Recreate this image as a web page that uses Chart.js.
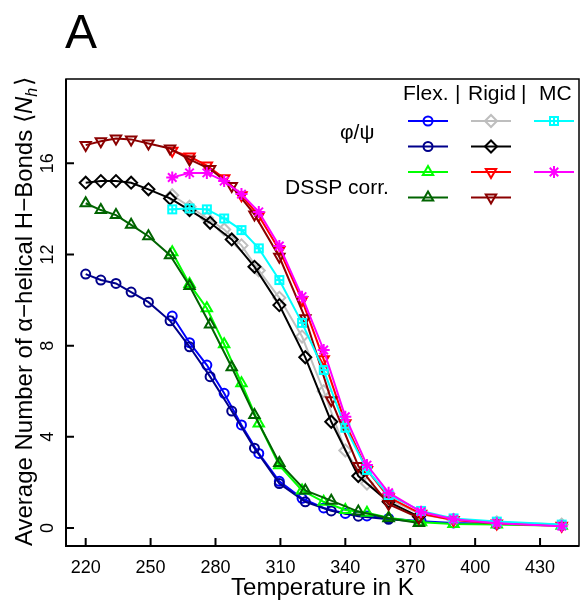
<!DOCTYPE html>
<html>
<head>
<meta charset="utf-8">
<script src="https://cdn.jsdelivr.net/npm/chart.js@4"></script>
<style>
  html, body { margin: 0; padding: 0; background: #fff; }
  canvas { display: block; }
</style>
</head>
<body>
<canvas id="chart" width="587" height="603"></canvas>
<script>
const FONT = '"Liberation Sans", Arial, Helvetica, sans-serif';

// temperature grids (K)
const tempsA = [220, 227, 234, 241, 249, 259, 268, 277.5, 287.5, 298, 309.5, 321.5, 333.5, 346, 360, 374];
const tempsB = [260, 268, 276, 284, 292, 300, 309.5, 320, 330, 340, 350, 360, 375, 390, 410, 440];

// average number of alpha-helical H-bonds
const flexPhiDark   = [11.14, 10.88, 10.73, 10.35, 9.91, 9.09, 7.95, 6.64, 5.13, 3.5, 1.95, 1.15, 0.75, 0.52, 0.38, 0.28];
const flexPhi       = [9.3, 8.13, 7.15, 5.91, 4.52, 3.27, 2.05, 1.3, 0.88, 0.64, 0.53, 0.42, 0.3, 0.22, 0.17, 0.12];
const flexDsspDark  = [14.25, 13.95, 13.73, 13.3, 12.8, 11.97, 10.62, 8.93, 7.05, 4.96, 2.85, 1.65, 1.2, 0.72, 0.43, 0.22];
const flexDssp      = [12.1, 10.7, 9.64, 8.06, 6.35, 4.59, 2.75, 1.65, 1.15, 0.79, 0.67, 0.45, 0.25, 0.17, 0.15, 0.1];
const rigidPhiDark  = [15.15, 15.22, 15.22, 15.15, 14.86, 14.46, 13.95, 13.39, 12.66, 11.46, 9.78, 7.49, 4.66, 2.28, 1.15, 0.5];
const rigidPhi      = [14.6, 14.1, 13.6, 13.1, 12.4, 11.3, 10.1, 8.4, 6.0, 3.4, 1.95, 1.25, 0.6, 0.35, 0.25, 0.15];
const rigidDsspDark = [16.8, 16.97, 17.09, 17.05, 16.87, 16.65, 16.17, 15.75, 15.0, 13.76, 11.9, 9.2, 5.61, 2.72, 1.05, 0.45];
const rigidDssp     = [16.55, 16.3, 15.9, 15.35, 14.6, 13.7, 12.2, 10.0, 7.4, 4.6, 2.55, 1.35, 0.62, 0.35, 0.2, 0.1];
const mcPhi         = [13.98, 14.02, 13.98, 13.58, 13.07, 12.27, 10.88, 9.0, 6.93, 4.4, 2.55, 1.45, 0.75, 0.42, 0.28, 0.15];
const mcDssp        = [15.38, 15.58, 15.58, 15.22, 14.65, 13.87, 12.37, 10.15, 7.81, 4.88, 2.76, 1.55, 0.71, 0.38, 0.21, 0.08];

const xTicks = [220, 250, 280, 310, 340, 370, 400, 430];
const yTicks = [0, 4, 8, 12, 16];

// square with plus (R pch 12)
function boxPlus(color) {
    const c = document.createElement("canvas");
    c.width = 12;
    c.height = 12;
    const g = c.getContext("2d");
    g.strokeStyle = color;
    g.lineWidth = 2;
    g.strokeRect(2, 2, 8, 8);
    g.beginPath();
    g.moveTo(6, 2); g.lineTo(6, 10);
    g.moveTo(2, 6); g.lineTo(10, 6);
    g.stroke();
    return c;
}

const circle = { pointStyle: "circle", radius: 4.5, rotation: 0 };
const diamond = { pointStyle: "rectRot", radius: 6, rotation: 0 };
const triUp = { pointStyle: "triangle", radius: 6, rotation: 0 };
const triDown = { pointStyle: "triangle", radius: 6, rotation: 180 };
const star = { pointStyle: "star", radius: 6, rotation: 0 };
const box = { pointStyle: boxPlus("#00FFFF"), radius: 5, rotation: 0 };

const makeSet = (temps, values, color, marker, order) => ({
    data: temps.map((t, i) => ({ x: t, y: values[i] })),
    borderColor: color,
    backgroundColor: "rgba(0,0,0,0)",
    borderWidth: 2,
    tension: 0,
    pointStyle: marker.pointStyle,
    pointRadius: marker.radius,
    pointRotation: marker.rotation,
    pointBorderWidth: 2,
    pointBorderColor: color,
    pointBackgroundColor: "rgba(0,0,0,0)",
    order: order,
});

// legend grid: [row, col, color, marker]
const legendRows = [121, 146.5, 172, 197.5];
const legendCols = [428, 491, 554];
const legendItems = [
    [0, 0, "#0000FF", circle], [0, 1, "#BEBEBE", diamond], [0, 2, "#00FFFF", box],
    [1, 0, "#00008B", circle], [1, 1, "#000000", diamond],
    [2, 0, "#00FF00", triUp], [2, 1, "#FF0000", triDown], [2, 2, "#FF00FF", star],
    [3, 0, "#006400", triUp], [3, 1, "#8B0000", triDown],
];

const decor = {
    id: "decor",
    afterDraw(chart) {
        const ctx = chart.ctx;
        const area = chart.chartArea;
        const xs = chart.scales.x;
        const ys = chart.scales.y;
        ctx.save();

        // frame and axes
        ctx.strokeStyle = "#000";
        ctx.lineWidth = 1.5;
        ctx.strokeRect(area.left, area.top, area.right - area.left, area.bottom - area.top);
        ctx.lineWidth = 2;
        ctx.beginPath();
        ctx.moveTo(area.left, area.top);
        ctx.lineTo(area.left, area.bottom);
        ctx.lineTo(area.right, area.bottom);
        xTicks.forEach((v) => {
            const px = xs.getPixelForValue(v);
            ctx.moveTo(px, area.bottom);
            ctx.lineTo(px, area.bottom - 8);
        });
        yTicks.forEach((v) => {
            const py = ys.getPixelForValue(v);
            ctx.moveTo(area.left, py);
            ctx.lineTo(area.left + 8, py);
        });
        ctx.stroke();

        ctx.fillStyle = "#000";
        ctx.textBaseline = "alphabetic";
        ctx.textAlign = "left";

        // panel letter
        ctx.font = "48px " + FONT;
        ctx.fillText("A", 65, 48);

        // y title with italic N and subscript h
        const main = "Average Number of \u03b1\u2212helical H\u2212Bonds \u27e8";
        const fMain = "24px " + FONT;
        const fIt = "italic 24px " + FONT;
        const fSub = "italic 16px " + FONT;
        ctx.font = fMain; const w1 = ctx.measureText(main).width;
        ctx.font = fIt; const w2 = ctx.measureText("N").width;
        ctx.font = fSub; const w3 = ctx.measureText("h").width;
        ctx.font = fMain; const w4 = ctx.measureText("\u27e9").width;
        const total = w1 + w2 + w3 + 2 + w4;
        ctx.save();
        ctx.translate(32, 311.5);
        ctx.rotate(-Math.PI / 2);
        let tx = -total / 2;
        ctx.font = fMain; ctx.fillText(main, tx, 0); tx += w1;
        ctx.font = fIt; ctx.fillText("N", tx, 0); tx += w2;
        ctx.font = fSub; ctx.fillText("h", tx, 5); tx += w3 + 2;
        ctx.font = fMain; ctx.fillText("\u27e9", tx, 0);
        ctx.restore();

        // legend header and row labels
        ctx.font = "21px " + FONT;
        ctx.fillText("Flex.", 403, 100);
        ctx.fillText("|", 455, 100);
        ctx.fillText("Rigid", 468, 100);
        ctx.fillText("|", 521, 100);
        ctx.fillText("MC", 539, 100);
        ctx.fillText("\u03c6/\u03c8", 340, 139);
        ctx.fillText("DSSP corr.", 285, 194);

        // legend samples
        legendItems.forEach(([r, c, color, m]) => {
            const cx = legendCols[c];
            const cy = legendRows[r];
            ctx.strokeStyle = color;
            ctx.fillStyle = "rgba(0,0,0,0)";
            ctx.lineWidth = 2;
            ctx.beginPath();
            ctx.moveTo(cx - 20, cy);
            ctx.lineTo(cx + 20, cy);
            ctx.stroke();
            Chart.helpers.drawPoint(ctx, {
                pointStyle: m.pointStyle,
                radius: m.radius,
                rotation: m.rotation,
                borderWidth: 2,
            }, cx, cy);
        });

        ctx.restore();
    },
};

const ctx = document.getElementById("chart");

new Chart(ctx, {
    type: "line",
    data: {
        datasets: [
            makeSet(tempsB, mcDssp, "#FF00FF", star, 0),
            makeSet(tempsB, mcPhi, "#00FFFF", box, 1),
            makeSet(tempsA, rigidDsspDark, "#8B0000", triDown, 2),
            makeSet(tempsB, rigidDssp, "#FF0000", triDown, 3),
            makeSet(tempsA, rigidPhiDark, "#000000", diamond, 4),
            makeSet(tempsB, rigidPhi, "#BEBEBE", diamond, 5),
            makeSet(tempsA, flexDsspDark, "#006400", triUp, 6),
            makeSet(tempsB, flexDssp, "#00FF00", triUp, 7),
            makeSet(tempsA, flexPhiDark, "#00008B", circle, 8),
            makeSet(tempsB, flexPhi, "#0000FF", circle, 9),
        ],
    },
    options: {
        responsive: false,
        animation: false,
        devicePixelRatio: 1,
        layout: { padding: { top: 79, right: 2, left: 0, bottom: 0 } },
        plugins: {
            legend: { display: false },
            tooltip: { enabled: false },
        },
        scales: {
            x: {
                type: "linear",
                min: 210.9,
                max: 448,
                afterBuildTicks: (s) => { s.ticks = xTicks.map((v) => ({ value: v })); },
                afterFit: (s) => { s.height = 57; },
                grid: { display: false, drawTicks: false },
                border: { display: false },
                ticks: {
                    color: "#000",
                    font: { family: FONT, size: 18 },
                    padding: 11,
                    maxRotation: 0,
                    autoSkip: false,
                },
                title: {
                    display: true,
                    text: "Temperature in K",
                    color: "#000",
                    font: { family: FONT, size: 24 },
                    padding: { top: 0, bottom: 0 },
                },
            },
            y: {
                type: "linear",
                min: -0.79,
                max: 19.7,
                afterBuildTicks: (s) => { s.ticks = yTicks.map((v) => ({ value: v })); },
                afterFit: (s) => { s.width = 66; },
                grid: { display: false, drawTicks: false },
                border: { display: false },
                ticks: {
                    color: "#000",
                    font: { family: FONT, size: 18 },
                    minRotation: 90,
                    maxRotation: 90,
                    crossAlign: "center",
                    padding: 8,
                    autoSkip: false,
                },
            },
        },
    },
    plugins: [decor],
});
</script>
</body>
</html>
